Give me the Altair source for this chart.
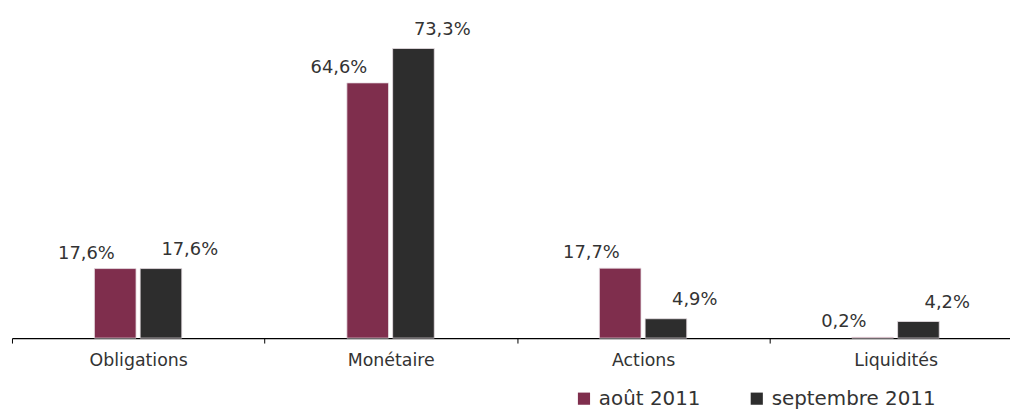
import altair as alt
import pandas as pd

categories = ["Obligations", "Monétaire", "Actions", "Liquidités"]
series = ["août 2011", "septembre 2011"]
aout_2011 = [17.6, 64.6, 17.7, 0.2]
septembre_2011 = [17.6, 73.3, 4.9, 4.2]
colors = ["#7f2e4d", "#2d2d2d"]

rows = []
for i, c in enumerate(categories):
    rows.append({"cat": c, "serie": series[0], "val": aout_2011[i]})
    rows.append({"cat": c, "serie": series[1], "val": septembre_2011[i]})
df = pd.DataFrame(rows)
df["label"] = df["val"].map(lambda v: f"{v:.1f}".replace(".", ",") + "%")

FONT = "DejaVu Sans"

x = alt.X("cat:N", sort=categories, title=None,
          scale=alt.Scale(paddingInner=0, paddingOuter=0, range=[0, 1017]),
          axis=alt.Axis(labelAngle=0, labelFont=FONT, labelFontSize=17.5, labelColor="#333333",
                        domainColor="#000000", tickColor="#000000", tickSize=5, tickBand="extent",
                        labelPadding=9, domainWidth=1.2))
xo = alt.XOffset("serie:N", sort=series,
                 scale=alt.Scale(range=[83, 171], paddingInner=0.09, paddingOuter=0))
y = alt.Y("val:Q", title=None, scale=alt.Scale(domain=[0, 83.2]), axis=None)

bars = alt.Chart(df).mark_bar(stroke="#e8e0e4", strokeWidth=0.8).encode(
    x=x, xOffset=xo, y=y,
    color=alt.Color("serie:N", sort=series, title=None,
                    scale=alt.Scale(domain=series, range=colors),
                    legend=alt.Legend(orient="none", direction="horizontal", legendX=566, legendY=382,
                                      symbolType="square", symbolSize=150, symbolStrokeWidth=0,
                                      labelFont=FONT, labelFontSize=20, labelColor="#333333",
                                      labelLimit=0, columnPadding=46, labelOffset=5, padding=0)),
)

def lab(s, dx, dy):
    return alt.Chart(df).transform_filter(alt.datum.serie == s).mark_text(
        font=FONT, fontSize=18, color="#333333", dx=dx, dy=dy, baseline="middle"
    ).encode(x=x, xOffset=xo, y=y, text="label:N")

chart = alt.layer(bars, lab(series[0], -29, -15), lab(series[1], 29, -19)).properties(
    width=1005, height=331,
    autosize=alt.AutoSizeParams(type="none"),
    padding={"left": 4, "top": 0, "right": 0, "bottom": 71},
).configure(background="#ffffff").configure_view(stroke=None)

chart.save("out.html", embed_options={"renderer": "svg", "actions": False})
